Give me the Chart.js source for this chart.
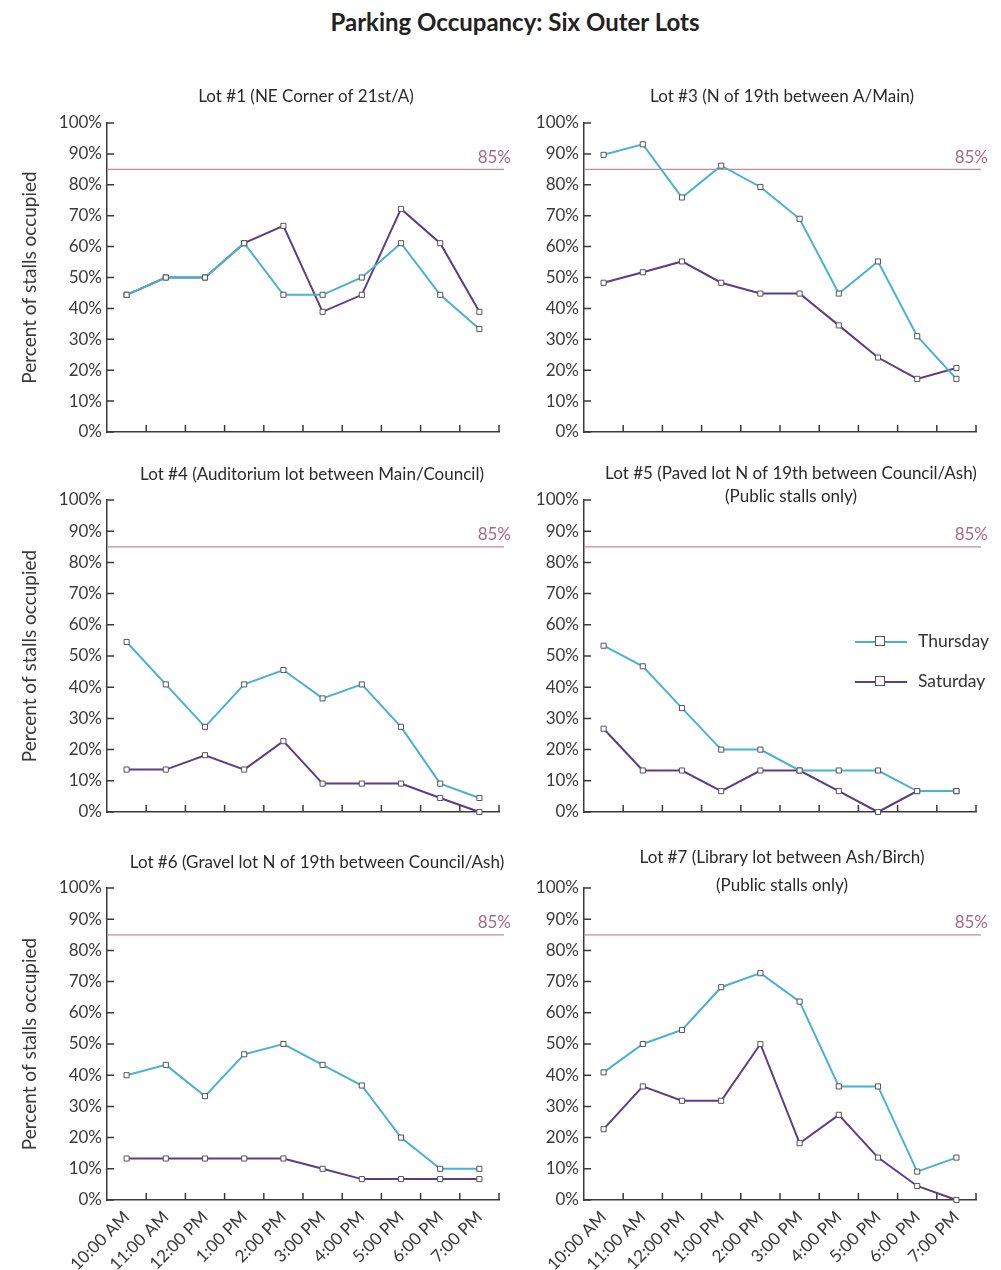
<!DOCTYPE html>
<html>
<head>
<meta charset="utf-8">
<title>Parking Occupancy: Six Outer Lots</title>
<script src="https://cdn.jsdelivr.net/npm/chart.js@4.4.1/dist/chart.umd.min.js"></script>
<style>
  body { margin: 0; background: #fff; font-family: Lato, "Open Sans", sans-serif; }
  #page { position: relative; width: 1001px; height: 1270px; overflow: hidden; }
  #mainTitle { position: absolute; left: 0; top: 7px; width: 1030px; text-align: center;
    font-size: 24px; font-weight: bold; color: #222; line-height: 30px; }
  canvas { position: absolute; }
  #legend { position: absolute; left: 855px; top: 630px; font-size: 17.5px; color: #333; }
  #legend .item { position: relative; height: 40px; }
  #legend .ln { position: absolute; left: 0; top: 11px; width: 52px; height: 2px; }
  #legend .sq { position: absolute; left: 20px; top: 6px; width: 10px; height: 10px;
    border: 1.3px solid #555; background: #fff; box-sizing: border-box; }
  #legend .txt { position: absolute; left: 63px; top: 1px; line-height: 20px; }
</style>
</head>
<body>
<div id="page">
  <div id="mainTitle">Parking Occupancy: Six Outer Lots</div>
  <canvas id="lot1" width="520" height="390"></canvas>
  <canvas id="lot3" width="491" height="390"></canvas>
  <canvas id="lot4" width="520" height="390"></canvas>
  <canvas id="lot5" width="491" height="390"></canvas>
  <canvas id="lot6" width="520" height="430"></canvas>
  <canvas id="lot7" width="491" height="430"></canvas>
  <div id="legend">
    <div class="item"><span class="ln" style="background:#48b2d2"></span><span class="sq"></span><span class="txt">Thursday</span></div>
    <div class="item"><span class="ln" style="background:#5b3d8a"></span><span class="sq"></span><span class="txt">Saturday</span></div>
  </div>
</div>
<script>
// Données
const times = ['10:00 AM', '11:00 AM', '12:00 PM', '1:00 PM', '2:00 PM', '3:00 PM', '4:00 PM', '5:00 PM', '6:00 PM', '7:00 PM'];
const seriesNames = ['Thursday', 'Saturday'];
const threshold = 85;

const lot1Title = ['Lot #1 (NE Corner of 21st/A)'];
const lot1Thursday = [44.4, 50, 50, 61.1, 44.4, 44.4, 50, 61.1, 44.4, 33.3];
const lot1Saturday = [44.4, 50, 50, 61.1, 66.7, 38.9, 44.4, 72.2, 61.1, 38.9];

const lot3Title = ['Lot #3 (N of 19th between A/Main)'];
const lot3Thursday = [89.7, 93.1, 75.9, 86.2, 79.3, 69.0, 44.8, 55.2, 31.0, 17.2];
const lot3Saturday = [48.3, 51.7, 55.2, 48.3, 44.8, 44.8, 34.5, 24.1, 17.2, 20.7];

const lot4Title = ['Lot #4 (Auditorium lot between Main/Council)'];
const lot4Thursday = [54.5, 40.9, 27.3, 40.9, 45.5, 36.4, 40.9, 27.3, 9.1, 4.5];
const lot4Saturday = [13.6, 13.6, 18.2, 13.6, 22.7, 9.1, 9.1, 9.1, 4.5, 0];

const lot5Title = ['Lot #5 (Paved lot N of 19th between Council/Ash)', '(Public stalls only)'];
const lot5Thursday = [53.3, 46.7, 33.3, 20, 20, 13.3, 13.3, 13.3, 6.7, 6.7];
const lot5Saturday = [26.7, 13.3, 13.3, 6.7, 13.3, 13.3, 6.7, 0, 6.7, 6.7];

const lot6Title = ['Lot #6 (Gravel lot N of 19th between Council/Ash)'];
const lot6Thursday = [40, 43.3, 33.3, 46.7, 50, 43.3, 36.7, 20, 10, 10];
const lot6Saturday = [13.3, 13.3, 13.3, 13.3, 13.3, 10, 6.7, 6.7, 6.7, 6.7];

const lot7Title = ['Lot #7 (Library lot between Ash/Birch)', '(Public stalls only)'];
const lot7Thursday = [40.9, 50, 54.5, 68.2, 72.7, 63.6, 36.4, 36.4, 9.1, 13.6];
const lot7Saturday = [22.7, 36.4, 31.8, 31.8, 50, 18.2, 27.3, 13.6, 4.5, 0];

// Mise en page
const thuColor = '#48b2d2';
const satColor = '#5b3d8a';
const axisColor = '#3a3a3a';
const textColor = '#3a3a3a';
const fontFamily = 'Lato, "Open Sans", sans-serif';

const cols = [
  { left: 0, width: 520, plotLeft: 107, plotRight: 499 },
  { left: 510, width: 491, plotLeft: 584, plotRight: 976 }
];
const rows = [
  { top: 60, height: 390, plotTop: 123, plotBottom: 432, labels: false },
  { top: 450, height: 390, plotTop: 500, plotBottom: 812, labels: false },
  { top: 840, height: 430, plotTop: 888, plotBottom: 1200, labels: true }
];

const panels = [
  { id: 'lot1', col: 0, row: 0, title: lot1Title, thu: lot1Thursday, sat: lot1Saturday, titleDx: 3, titleDy: [-26] },
  { id: 'lot3', col: 1, row: 0, title: lot3Title, thu: lot3Thursday, sat: lot3Saturday, titleDx: 2, titleDy: [-26] },
  { id: 'lot4', col: 0, row: 1, title: lot4Title, thu: lot4Thursday, sat: lot4Saturday, titleDx: 9, titleDy: [-25] },
  { id: 'lot5', col: 1, row: 1, title: lot5Title, thu: lot5Thursday, sat: lot5Saturday, titleDx: 11, titleDy: [-26, -3] },
  { id: 'lot6', col: 0, row: 2, title: lot6Title, thu: lot6Thursday, sat: lot6Saturday, titleDx: 14, titleDy: [-25] },
  { id: 'lot7', col: 1, row: 2, title: lot7Title, thu: lot7Thursday, sat: lot7Saturday, titleDx: 2, titleDy: [-30, -2] }
];

// Titre de chaque panneau, centré sur la zone du graphique
const panelTitle = {
  id: 'panelTitle',
  afterDraw(chart, args, opts) {
    const { ctx, chartArea: a } = chart;
    ctx.save();
    ctx.font = '17px ' + fontFamily;
    ctx.fillStyle = '#2a2a2a';
    ctx.textAlign = 'center';
    ctx.textBaseline = 'middle';
    opts.lines.forEach((line, i) => {
      ctx.fillText(line, (a.left + a.right) / 2 + opts.dx, a.top + opts.dy[i]);
    });
    ctx.restore();
  }
};

// Ligne de référence à 85 %
const refLine = {
  id: 'refLine',
  beforeDatasetsDraw(chart) {
    const { ctx, chartArea: a, scales: { y } } = chart;
    const py = y.getPixelForValue(threshold);
    ctx.save();
    ctx.strokeStyle = '#c48a9c';
    ctx.lineWidth = 1.3;
    ctx.beginPath();
    ctx.moveTo(a.left, py);
    ctx.lineTo(a.right + 5, py);
    ctx.stroke();
    ctx.font = '17px ' + fontFamily;
    ctx.fillStyle = '#a66b84';
    ctx.textAlign = 'right';
    ctx.textBaseline = 'middle';
    ctx.fillText(threshold + '%', a.right + 12, py - 12);
    ctx.restore();
  }
};

// Graduations tournées vers l'intérieur
const innerTicks = {
  id: 'innerTicks',
  beforeDatasetsDraw(chart) {
    const { ctx, chartArea: a, scales: { x, y } } = chart;
    ctx.save();
    ctx.strokeStyle = axisColor;
    ctx.lineWidth = 1.5;
    ctx.beginPath();
    y.ticks.forEach(t => {
      const py = y.getPixelForValue(t.value);
      ctx.moveTo(a.left, py);
      ctx.lineTo(a.left + 7, py);
    });
    const half = (x.getPixelForValue(1) - x.getPixelForValue(0)) / 2;
    for (let i = 0; i < times.length; i++) {
      const px = x.getPixelForValue(i) + half;
      ctx.moveTo(px, a.bottom);
      ctx.lineTo(px, a.bottom - 7);
    }
    ctx.stroke();
    ctx.restore();
  }
};

function makeDataset(label, values, color) {
  return {
    label: label,
    data: values,
    borderColor: color,
    borderWidth: 2,
    pointStyle: 'rect',
    pointRadius: 3.6,
    pointBackgroundColor: '#fff',
    pointBorderColor: '#555',
    pointBorderWidth: 1,
    tension: 0,
    clip: false
  };
}

panels.forEach(p => {
  const c = cols[p.col];
  const r = rows[p.row];
  const canvas = document.getElementById(p.id);
  canvas.style.left = c.left + 'px';
  canvas.style.top = r.top + 'px';
  const yWidth = c.plotLeft - c.left;
  const xHeight = r.top + r.height - r.plotBottom;

  new Chart(canvas, {
    type: 'line',
    data: {
      labels: times,
      datasets: [
        makeDataset(seriesNames[0], p.thu, thuColor),
        makeDataset(seriesNames[1], p.sat, satColor)
      ]
    },
    options: {
      responsive: false,
      animation: false,
      layout: {
        padding: { top: r.plotTop - r.top, right: c.left + c.width - c.plotRight, bottom: 0, left: 0 }
      },
      plugins: {
        legend: { display: false },
        tooltip: { enabled: false },
        panelTitle: { lines: p.title, dx: p.titleDx, dy: p.titleDy }
      },
      scales: {
        x: {
          type: 'category',
          offset: true,
          grid: { display: false, drawTicks: false, offset: true },
          border: { display: true, color: axisColor, width: 1.5 },
          ticks: {
            display: r.labels,
            autoSkip: false,
            maxRotation: 45,
            minRotation: 45,
            padding: 7,
            color: textColor,
            font: { family: fontFamily, size: 17 }
          },
          afterFit(s) { s.height = xHeight; s.paddingLeft = 0; s.paddingRight = 0; }
        },
        y: {
          min: 0,
          max: 100,
          grid: { display: false, drawTicks: false },
          border: { display: true, color: axisColor, width: 1.5 },
          ticks: {
            stepSize: 10,
            padding: 5,
            color: textColor,
            font: { family: fontFamily, size: 17 },
            callback: v => v + '%'
          },
          title: {
            display: p.col === 0,
            text: 'Percent of stalls occupied',
            color: textColor,
            font: { family: fontFamily, size: 19 },
            padding: { top: 18, bottom: 0 }
          },
          afterFit(s) { s.width = yWidth; s.paddingTop = 0; s.paddingBottom = 0; }
        }
      }
    },
    plugins: [panelTitle, refLine, innerTicks]
  });
});
</script>
</body>
</html>
